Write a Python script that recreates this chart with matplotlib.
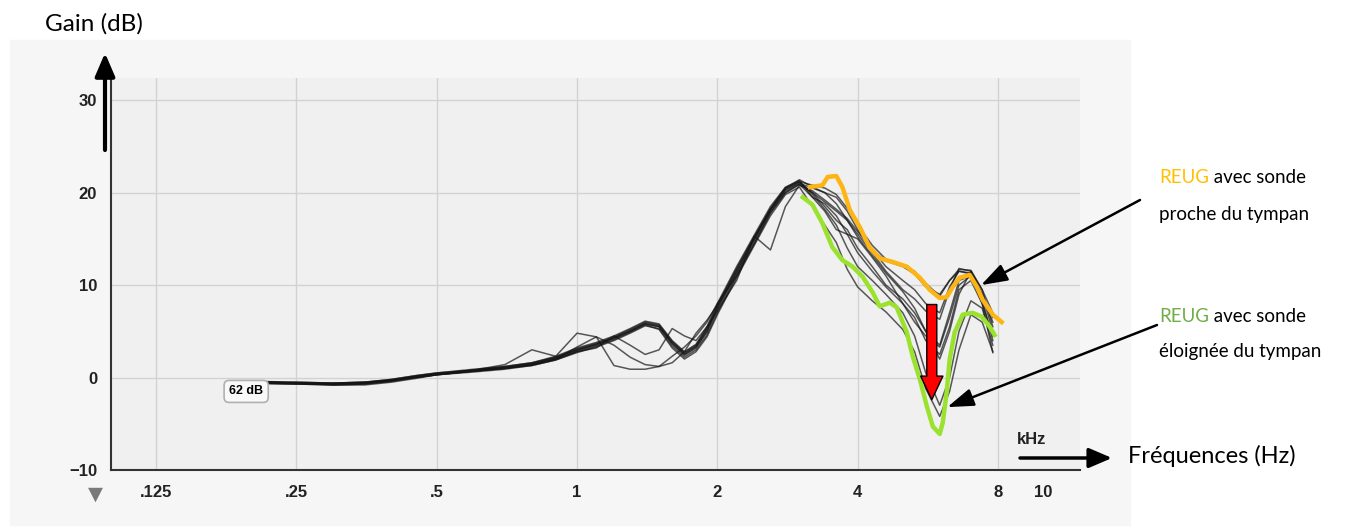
import matplotlib
matplotlib.use("Agg")
import matplotlib.pyplot as plt
from matplotlib.patches import Rectangle

# frequency grid (kHz) shared by the black REUG curves
freq = [0.2, 0.25, 0.3, 0.35, 0.4, 0.45, 0.5, 0.6, 0.7, 0.8, 0.9,
        1.0, 1.1, 1.2, 1.3, 1.4, 1.5, 1.6, 1.7, 1.8, 1.9, 2.0,
        2.2, 2.4, 2.6, 2.8, 3.0,
        3.2, 3.4, 3.6, 3.8, 4.0, 4.3, 4.6, 5.0, 5.3, 5.6, 6.0, 6.3, 6.6, 7.0, 7.4, 7.8]

curve1 = [-0.4, -0.5, -0.6, -0.5, -0.2, 0.2, 0.5, 0.8, 1.1, 1.5, 2.2,
          3.0, 3.6, 4.3, 5.1, 5.9, 5.6, 3.8, 2.6, 3.4, 5.2, 7.6,
          11.4, 15.0, 18.2, 20.4, 21.2,
          20.8, 20.5, 19.8, 18.3, 16.5, 14.3, 12.8, 12.2, 11.5, 10.2, 8.8, 10.5, 11.7, 11.6, 9.5, 7.0]
curve2 = [-0.5, -0.6, -0.7, -0.6, -0.3, 0.1, 0.4, 0.7, 1.0, 1.4, 2.0,
          2.9, 3.5, 4.2, 5.0, 5.8, 5.5, 3.6, 2.4, 3.2, 4.9, 7.3,
          11.2, 14.8, 18.0, 20.2, 21.0,
          20.5, 20.0, 19.5, 18.0, 16.0, 13.8, 12.6, 12.0, 11.2, 9.8, 9.0, 10.5, 11.5, 11.2, 9.0, 6.5]
curve3 = [-0.6, -0.7, -0.8, -0.7, -0.4, 0.0, 0.3, 0.7, 1.0, 1.3, 1.9,
          2.7, 3.3, 4.0, 4.8, 5.6, 5.3, 3.4, 2.2, 3.0, 4.6, 7.0,
          11.0, 14.5, 17.8, 20.0, 20.9,
          20.0, 19.0, 18.0, 17.0, 15.5, 13.5, 11.5, 9.5, 8.5, 7.2, 6.3, 9.5, 11.8, 11.5, 9.5, 5.5]
curve4 = [-0.5, -0.5, -0.6, -0.5, -0.2, 0.2, 0.5, 0.9, 1.2, 1.6, 2.3,
          3.2, 3.8, 4.5, 5.3, 6.1, 5.8, 4.0, 2.8, 3.6, 5.5, 8.0,
          12.0, 15.4, 18.5, 20.6, 21.3,
          19.5, 18.0, 16.0, 15.5, 15.0, 13.0, 11.0, 8.0, 6.0, 4.5, 3.3, 6.5, 10.0, 11.0, 8.5, 4.0]
curve5 = [-0.6, -0.7, -0.8, -0.7, -0.4, 0.0, 0.3, 0.6, 0.9, 1.3, 1.9,
          2.8, 3.4, 4.1, 4.9, 5.7, 5.2, 3.2, 2.0, 2.8, 4.4, 6.8,
          10.8, 14.3, 17.5, 19.8, 20.6,
          18.5, 16.5, 14.6, 11.7, 9.8, 8.3, 7.1, 5.2, 2.8, -1.2, -4.2, -1.5, 3.0, 6.8, 6.0, 2.8]
curve6 = [-0.4, -0.6, -0.6, -0.5, -0.3, 0.1, 0.4, 0.8, 1.2, 1.6, 2.2,
          3.1, 3.7, 4.4, 5.2, 6.0, 5.7, 3.9, 2.7, 3.5, 5.3, 7.8,
          11.7, 15.2, 18.3, 20.5, 21.2,
          19.8, 18.2, 16.5, 14.0, 12.0, 10.5, 9.0, 7.0, 4.5, 0.5, -3.0, 0.0, 5.0, 8.3, 7.5, 3.5]
curve7 = [-0.5, -0.6, -0.7, -0.6, -0.3, 0.1, 0.4, 0.8, 1.1, 1.5, 2.1,
          3.0, 3.6, 4.3, 5.0, 5.8, 5.5, 3.7, 2.5, 3.3, 5.0, 7.5,
          11.5, 15.0, 18.1, 20.3, 21.1,
          20.0, 18.5, 17.0, 16.0, 14.0, 12.0, 10.0, 8.5, 7.0, 5.0, 2.0, 5.0, 9.0, 11.5, 9.0, 5.0]
curve8 = [-0.5, -0.6, -0.7, -0.6, -0.3, 0.1, 0.4, 0.8, 1.4, 3.0, 2.3,
          4.8, 4.4, 1.3, 0.9, 0.9, 1.2, 2.3, 3.3, 4.5, 6.0, 8.0,
          11.0, 14.5, 17.8, 20.0, 20.9,
          19.5, 18.8, 17.5, 15.5, 13.5, 11.5, 9.8, 8.0, 6.5, 4.0, 2.5, 5.5, 9.5, 10.5, 8.0, 4.5]
curve9 = [-0.6, -0.7, -0.7, -0.6, -0.3, 0.0, 0.3, 0.7, 1.0, 1.4, 2.0,
          2.8, 3.2, 4.5, 3.5, 2.5, 3.0, 5.3, 4.5, 4.0, 5.5, 7.2,
          10.5, 15.3, 13.8, 18.5, 20.8,
          20.2, 19.2, 18.2, 17.2, 15.8, 13.8, 12.0, 10.5, 9.5, 8.0, 7.0, 9.8, 11.5, 11.3, 9.0, 6.0]
curve10 = [-0.5, -0.6, -0.8, -0.8, -0.5, -0.1, 0.3, 0.7, 1.0, 1.4, 2.0,
           3.3, 4.4, 3.5, 2.2, 1.4, 1.2, 1.6, 2.8, 4.8, 6.2, 7.8,
           11.8, 15.2, 18.2, 20.5, 21.4,
           20.6, 20.0, 18.8, 17.0, 15.2, 13.2, 11.3, 9.3, 7.5, 5.0, 3.5, 7.0, 10.5, 11.0, 8.0, 2.7]
black_curves = [curve1, curve2, curve3, curve4, curve5, curve6, curve7, curve8, curve9, curve10]

# highlighted REUG: probe near the eardrum (orange) / far from it (green)
orange_f = [3.16, 3.36, 3.45, 3.60, 3.71, 3.85, 4.04, 4.24, 4.46, 4.76, 5.10,
            5.44, 5.71, 6.00, 6.21, 6.40, 6.62, 6.96, 7.21, 7.42, 7.80, 8.15]
orange_g = [20.6, 20.8, 21.7, 21.8, 20.6, 18.1, 16.3, 14.1, 12.9, 12.5, 12.0,
            10.8, 9.5, 8.6, 8.7, 9.8, 10.8, 11.1, 9.8, 8.4, 6.8, 6.0]
green_f = [3.05, 3.20, 3.36, 3.53, 3.71, 3.90, 4.10, 4.31, 4.46, 4.69, 4.85, 5.10, 5.25,
           5.44, 5.63, 5.80, 6.00, 6.09, 6.21, 6.30, 6.46, 6.72, 7.06, 7.38, 7.68, 7.87]
green_g = [19.5, 18.7, 16.7, 14.1, 12.7, 12.0, 10.9, 9.2, 7.7, 8.1, 7.6, 4.9, 2.3,
           -0.2, -3.1, -5.3, -6.1, -4.9, -1.6, 1.9, 4.9, 6.8, 7.0, 6.6, 5.5, 4.6]

xticks = [0.125, 0.25, 0.5, 1, 2, 4, 8, 10]
xticklabels = [".125", ".25", ".5", "1", "2", "4", "8", "10"]
xgrid = [0.125, 0.25, 0.5, 1, 2, 4, 8]
yticks = [-10, 0, 10, 20, 30]

W, H = 1370, 531
narrow = ["Liberation Sans Narrow", "Liberation Sans", "DejaVu Sans"]
calib = ["Lato", "DejaVu Sans"]

fig = plt.figure(figsize=(W / 100, H / 100), dpi=100)
fig.patch.set_facecolor("white")
# scanned-sheet background
fig.patches.append(Rectangle((10 / W, 1 - 525 / H), 1120 / W, 485 / H,
                             transform=fig.transFigure, color="#f6f6f6", zorder=-10))

ax = fig.add_axes([111 / W, 1 - 470 / H, (1080 - 111) / W, (470 - 78) / H])
ax.set_zorder(1)
ax.set_facecolor("#f0f0f0")
ax.set_xscale("log", base=2)
ax.set_xlim(0.1, 12)
ax.set_ylim(-10, 32.4)
for f in xgrid:
    ax.axvline(f, color="#d2d2d2", lw=1, zorder=0)
for g in yticks[1:]:
    ax.axhline(g, color="#d2d2d2", lw=1, zorder=0)

ax.set_xticks(xticks)
ax.set_xticklabels(xticklabels)
ax.minorticks_off()
ax.set_yticks(yticks)
ax.tick_params(length=0)
ax.tick_params(axis="x", pad=11)
ax.tick_params(axis="y", pad=10)
for lab in ax.get_xticklabels() + ax.get_yticklabels():
    lab.set_family(narrow)
    lab.set_fontweight("bold")
    lab.set_fontsize(12)
    lab.set_color("#222222")
for s in ["top", "right"]:
    ax.spines[s].set_visible(False)
for s in ["left", "bottom"]:
    ax.spines[s].set_color("#333333")
    ax.spines[s].set_linewidth(1.5)

for c in black_curves:
    ax.plot(freq, c, color="#151515", lw=1.1, alpha=0.7, zorder=3)
ax.plot(orange_f, orange_g, color="#FDB515", lw=3.2, zorder=5, solid_joinstyle="round")
ax.plot(green_f, green_g, color="#9BE22E", lw=3.2, zorder=5, solid_joinstyle="round")

ax.text(0.195, -1.5, "62 dB", fontsize=9, fontweight="bold", family=narrow,
        ha="center", va="center", zorder=6,
        bbox=dict(boxstyle="round,pad=0.4", fc="#f9f9f9", ec="#b0b0b0", lw=1.2))

# red arrow showing the drop
ax.annotate("", xy=(5.77, -2.4), xytext=(5.77, 7.9), zorder=7,
            arrowprops=dict(arrowstyle="simple,head_length=0.85,head_width=0.8,tail_width=0.36",
                            mutation_scale=20, fc="#ff0000", ec="black", lw=1,
                            shrinkA=0, shrinkB=0))

# pointers to the labels
ax.annotate("", xy=(7.36, 10.0), xytext=(1140, H - 200), textcoords="figure pixels",
            annotation_clip=False,
            arrowprops=dict(arrowstyle="-|>,head_length=0.8,head_width=0.27",
                            mutation_scale=20, color="black", lw=1.8, shrinkA=0, shrinkB=0))
ax.annotate("", xy=(6.23, -3.2), xytext=(1157, H - 325), textcoords="figure pixels",
            annotation_clip=False,
            arrowprops=dict(arrowstyle="-|>,head_length=0.8,head_width=0.27",
                            mutation_scale=20, color="black", lw=1.8, shrinkA=0, shrinkB=0))

# axis arrows
ax.annotate("", xy=(105, H - 53), xycoords="figure pixels", xytext=(105, H - 150),
            annotation_clip=False,
            arrowprops=dict(arrowstyle="-|>,head_length=0.7,head_width=0.3",
                            mutation_scale=20, color="black", lw=3, shrinkA=0, shrinkB=0))
ax.annotate("", xy=(1112, H - 458), xycoords="figure pixels", xytext=(1020, H - 458),
            annotation_clip=False,
            arrowprops=dict(arrowstyle="-|>,head_length=0.7,head_width=0.3",
                            mutation_scale=20, color="black", lw=2.5, shrinkA=0, shrinkB=0))

fig.text(1032 / W, 1 - 440 / H, "kHz", fontsize=12, fontweight="bold", family=narrow,
         ha="center", va="center", color="#222222")
fig.text(95 / W, 1 - 494 / H, "\u25BC", fontsize=14, color="#7a7a7a", ha="center", va="center")

fig.text(45 / W, 1 - 31 / H, "Gain (dB)", fontsize=17.5, family=calib, va="baseline")
fig.text(1128 / W, 1 - 463 / H, "Fréquences (Hz)", fontsize=17, family=calib, va="baseline")

t1 = fig.text(1159 / W, 1 - 183 / H, "REUG", fontsize=13.5, family=calib, color="#FFC000",
              va="baseline")
ax.annotate(" avec sonde", xy=(1, 0), xycoords=t1, fontsize=13.5, family=calib, va="bottom",
            annotation_clip=False)
fig.text(1159 / W, 1 - 220 / H, "proche du tympan", fontsize=13.5, family=calib, va="baseline")
t2 = fig.text(1159 / W, 1 - 322 / H, "REUG", fontsize=13.5, family=calib, color="#70AD47",
              va="baseline")
ax.annotate(" avec sonde", xy=(1, 0), xycoords=t2, fontsize=13.5, family=calib, va="bottom",
            annotation_clip=False)
fig.text(1159 / W, 1 - 357 / H, "éloignée du tympan", fontsize=13.5, family=calib, va="baseline")

fig.savefig("out.png", dpi=100)
